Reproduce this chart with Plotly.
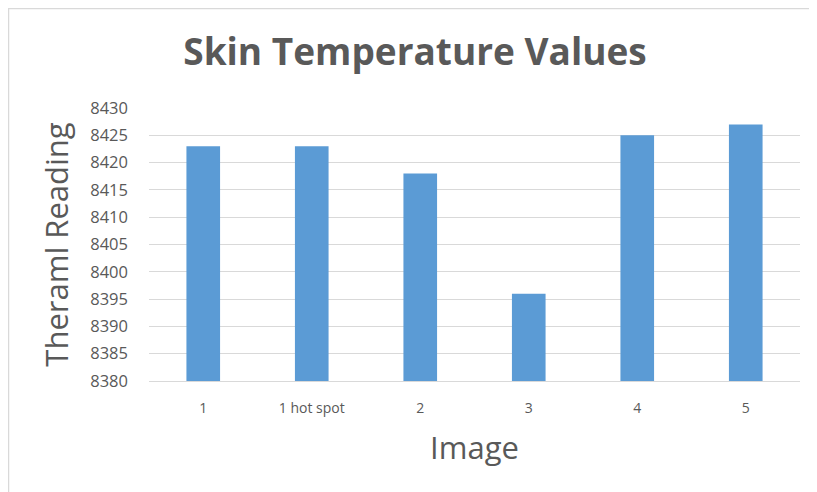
import plotly.graph_objects as go

categories = ["1", "1 hot spot", "2", "3", "4", "5"]
values = [8423, 8423, 8418, 8396, 8425, 8427]
y_ticks = list(range(8380, 8431, 5))

# page has an 8px body margin; figure drawn at (8,8)
W, H = 809, 484
L, R, T, B = 141, 17, 100, 111
pw, ph = W - L - R, H - T - B

font_fam = "Open Sans, sans-serif"
gray = "#595959"

fig = go.Figure(go.Bar(x=categories, y=values, marker=dict(color="#5B9BD5", line=dict(width=0)), width=0.31))

def px_x(x):
    return (x - L) / pw

def px_y(y):
    return 1 - (y - T) / ph

fig.update_layout(
    width=W, height=H,
    margin=dict(l=L, r=R, t=T, b=B),
    paper_bgcolor="white", plot_bgcolor="white",
    showlegend=False,
    title=dict(text="<b>Skin Temperature Values</b>", xref="container", x=407 / W, xanchor="center",
               yref="container", y=1 - 44 / H, yanchor="middle",
               font=dict(family=font_fam, size=37, color=gray)),
    xaxis=dict(showline=True, linecolor="#d9d9d9", linewidth=1, ticks="", showgrid=False,
               tickfont=dict(family=font_fam, size=14, color=gray), ticklabelstandoff=14,
               title=dict(text="Image", font=dict(family=font_fam, size=31, color=gray), standoff=21)),
    yaxis=dict(range=[8380, 8430], tickvals=y_ticks, showgrid=True, gridcolor="#d9d9d9", gridwidth=1,
               zeroline=False, showline=False, ticks="",
               tickfont=dict(family=font_fam, size=16.5, color=gray), ticklabelstandoff=20,
               title=dict(text="Theraml Reading", font=dict(family=font_fam, size=31, color=gray), standoff=12)),
    shapes=[
        dict(type="line", xref="paper", yref="paper", x0=px_x(0), x1=px_x(W), y0=px_y(0.5), y1=px_y(0.5),
             line=dict(color="#d9d9d9", width=1.5)),
        dict(type="line", xref="paper", yref="paper", x0=px_x(0.5), x1=px_x(0.5), y0=px_y(0), y1=px_y(H),
             line=dict(color="#d9d9d9", width=1.5)),
    ],
)

fig.write_html("out.html")
